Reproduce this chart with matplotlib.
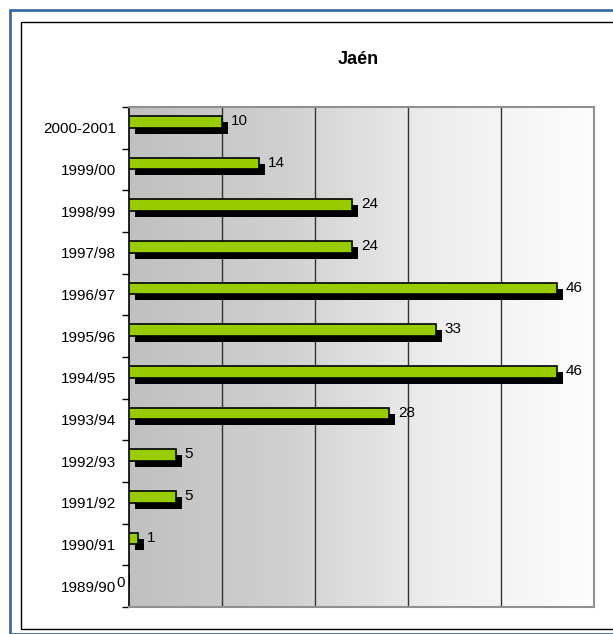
import numpy as np
import matplotlib
matplotlib.use("Agg")
import matplotlib.pyplot as plt
from matplotlib.patches import Rectangle
from matplotlib.transforms import ScaledTranslation
from matplotlib.colors import LinearSegmentedColormap

plt.rcParams['font.family'] = ['Liberation Sans', 'DejaVu Sans']

seasons = ["2000-2001", "1999/00", "1998/99", "1997/98", "1996/97", "1995/96",
           "1994/95", "1993/94", "1992/93", "1991/92", "1990/91", "1989/90"]
values = [10, 14, 24, 24, 46, 33, 46, 28, 5, 5, 1, 0]
title = "Jaén"

W, H = 613, 634
fig = plt.figure(figsize=(W / 100, H / 100), dpi=100)
fig.patch.set_facecolor("white")

# outer blue border and inner black frame
fig.patches.append(Rectangle((10 / W, 0), 1.2, 1 - 10 / H, transform=fig.transFigure,
                             fill=False, edgecolor="#3b6ea5", linewidth=2.0))
fig.patches.append(Rectangle((20.5 / W, 5.5 / H), 1.2, 1 - 27 / H, transform=fig.transFigure,
                             fill=False, edgecolor="#000000", linewidth=1.0))

left, right, top, bottom = 129, 594, 107, 607
ax = fig.add_axes([left / W, 1 - bottom / H, (right - left) / W, (bottom - top) / H])

n = len(seasons)
y = np.arange(n)[::-1]

# gradient background, grey on the left fading to white
grad = np.linspace(0, 1, 256).reshape(1, -1)
cmap = LinearSegmentedColormap.from_list("bg", ["#c0c0c0", "#d0d0d0", "#eeeeee", "#fdfdfd"])
ax.imshow(grad, extent=[0, 1, 0, 1], transform=ax.transAxes, aspect="auto",
          cmap=cmap, zorder=0)

ax.set_xlim(0, 50)
ax.set_ylim(-0.5, n - 0.5)

for gx in [10, 20, 30, 40]:
    ax.axvline(gx, color="#333333", linewidth=1.0, zorder=1)

# bars with a dropped shadow: face raised, shadow shifted right
bh = 0.28
face = ax.transData + ScaledTranslation(0, 6 / 100, fig.dpi_scale_trans)
shadow = ax.transData + ScaledTranslation(6 / 100, 0, fig.dpi_scale_trans)
ax.barh(y, values, height=bh, color="black", edgecolor="black", linewidth=0,
        transform=shadow, zorder=2)
ax.barh(y, values, height=bh, color="#99cc00", edgecolor="black", linewidth=1.2,
        transform=face, zorder=3)

for yi, v in zip(y, values):
    if v > 0:
        dx, dy = 9, 7
    else:
        dx, dy = -13, 3
    ax.annotate(str(v), (v, yi), xytext=(dx, dy), textcoords="offset pixels",
                ha="left", va="center", fontsize=11, zorder=4, annotation_clip=False)

ax.set_yticks(y)
ax.set_yticklabels(seasons, fontsize=11)
ax.set_yticks(np.arange(n + 1) - 0.5, minor=True)
ax.tick_params(axis="y", which="major", length=0, pad=9)
ax.tick_params(axis="y", which="minor", length=5, width=1, direction="out")
ax.set_xticks([])

for side in ["top", "right", "bottom"]:
    ax.spines[side].set_color("#909090")
    ax.spines[side].set_linewidth(1.5)
ax.spines["left"].set_color("black")
ax.spines["left"].set_linewidth(1.2)

fig.text((left + right) / 2 / W - 0.005, 1 - 60 / H, title, ha="center", va="center",
         fontsize=13, fontweight="bold")

fig.savefig("out.png", dpi=100)
